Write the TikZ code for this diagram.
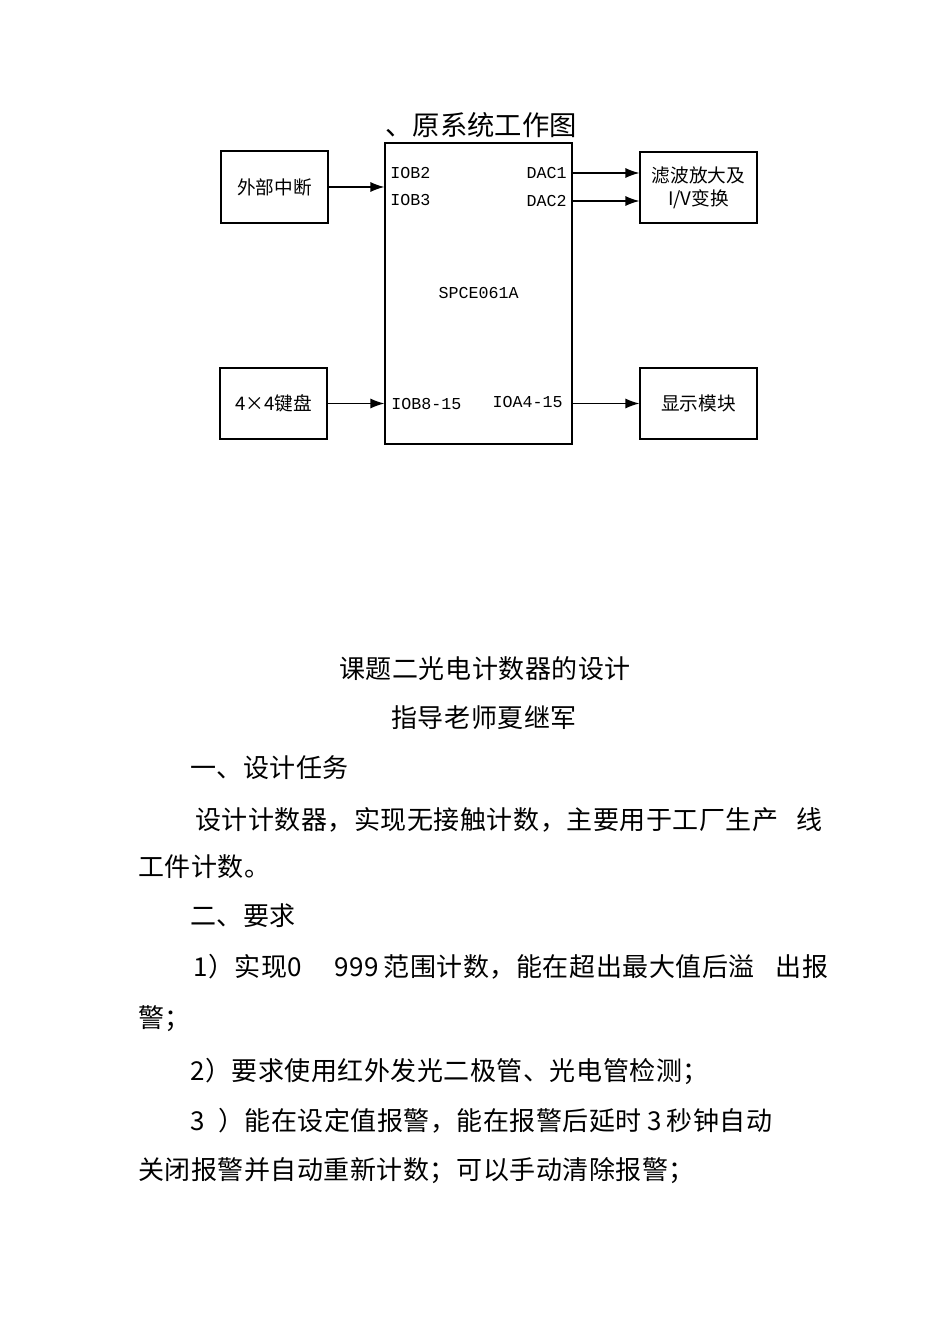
\documentclass[tikz,border=0pt]{standalone}
\usepackage{fontspec}
\newfontfamily\cjk{Noto Sans CJK SC}
\newfontfamily\bodyfont[LetterSpace=2]{Noto Sans CJK SC}
\newfontfamily\pinfont{Liberation Mono}
\usetikzlibrary{positioning,arrows.meta,calc}

\begin{document}
\begin{tikzpicture}[x=0.75pt,y=-0.75pt]
      \tikzstyle{blk} = [draw,line width=0.9pt,inner sep=0pt,font=\cjk\fontsize{14}{17}\selectfont,align=center]
      \tikzstyle{pin} = [inner sep=0pt,font=\pinfont\fontsize{12.5}{14}\selectfont]
      \tikzstyle{para} = [anchor=west,inner sep=0pt,font=\bodyfont\fontsize{19.5}{22}\selectfont]
      \tikzstyle{link} = [-{Latex[length=10.5pt,width=7.5pt]},line width=0.9pt]
      \useasboundingbox (0,0) rectangle (950,1344);
      % block diagram
      \node (title) at (481,125) [inner sep=0pt,font=\cjk\fontsize{20.5}{24}\selectfont]{、原系统工作图};
      \node (mcu) at (478.5,293.5) [blk,minimum width=140.25pt,minimum height=225.75pt]{\pinfont\fontsize{12.5}{14}\selectfont SPCE061A};
      \node (ext) at (274.5,187) [blk,minimum width=80.25pt,minimum height=54pt]{外部中断};
      \node (filt) at (698.5,187.5) [blk,minimum width=87.75pt,minimum height=53.25pt]{滤波放大及\\I/V变换};
      \node (key) at (273.5,403.5) [blk,minimum width=80.25pt,minimum height=53.25pt]{4×4键盘};
      \node (disp) at (698.5,403.5) [blk,minimum width=87.75pt,minimum height=53.25pt]{显示模块};
      \node (iobA) at (390,173) [pin,anchor=west]{IOB2};
      \node (iobB) at (390,200) [pin,anchor=west]{IOB3};
      \node (dacA) at (567,173) [pin,anchor=east]{DAC1};
      \node (dacB) at (567,201) [pin,anchor=east]{DAC2};
      \node (iobC) at (391,404) [pin,anchor=west]{IOB8-15};
      \node (ioaA) at (563,402) [pin,anchor=east]{IOA4-15};
      \draw[link] (ext.east) -- (ext.east -| mcu.west);
      \draw[link] (mcu.east |- dacA) -- (filt.west |- dacA);
      \draw[link] (mcu.east |- dacB) -- (filt.west |- dacB);
      \draw[link] (key.east) -- (key.east -| mcu.west);
      \draw[link] (mcu.east |- disp) -- (disp.west);
      % text below
      \node (head) at (485,669) [para,anchor=center]{课题二光电计数器的设计};
      \node (tutor) at (484,718) [para,anchor=center]{指导老师夏继军};
      \foreach \x/\y/\t [count=\i] in {190/768/{一、设计任务},
        195/820/{设计计数器，实现无接触计数，主要用于工厂生产\hspace{14pt}线},
        138/867/{工件计数。},
        190/916/{二、要求},
        193/967/{1）实现0\hspace{24pt}999\hspace{4pt}范围计数，能在超出最大值后溢\hspace{16pt}出报},
        138/1019/{警；},
        190/1071/{2）要求使用红外发光二极管、光电管检测；},
        190/1121/{3\hspace{10pt}）能在设定值报警，能在报警后延时\hspace{4pt}3\hspace{4pt}秒钟自动},
        138/1171/{关闭报警并自动重新计数；可以手动清除报警；}}{
        \node (l\i) at (\x,\y) [para]{\t};
      }
\end{tikzpicture}
\end{document}
